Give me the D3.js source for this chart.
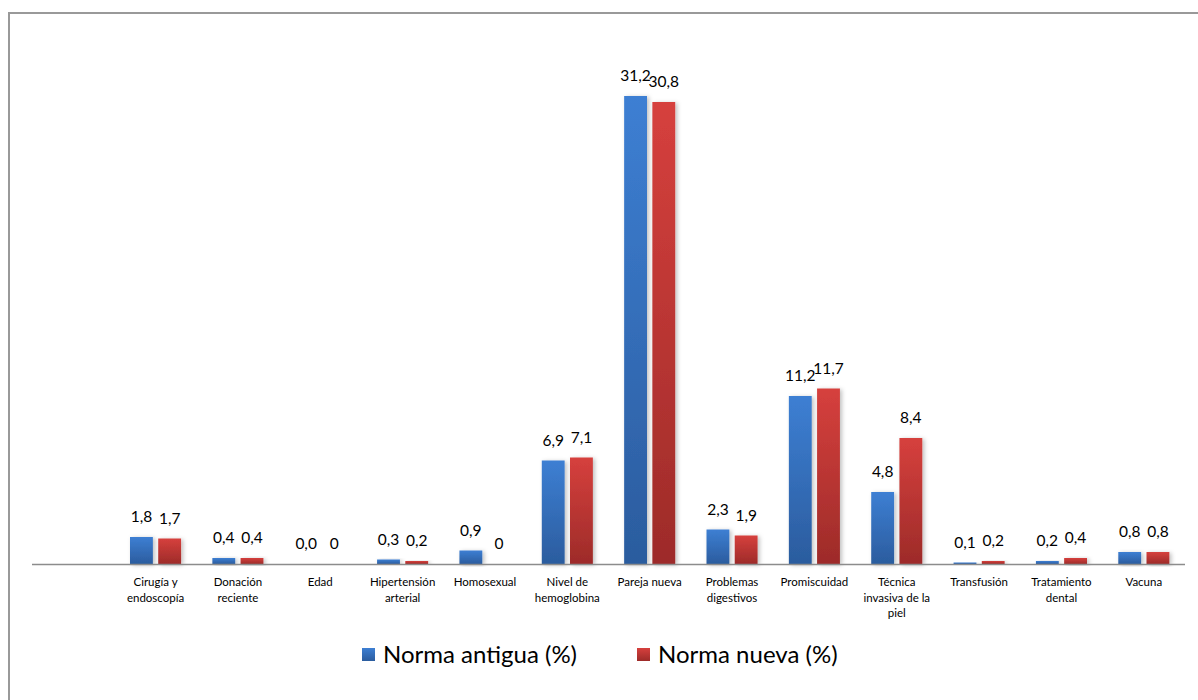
<!DOCTYPE html>
<html>
  <head>
    <meta charset="utf-8">
    <title>Norma antigua vs nueva</title>
    <style media="screen">
      body {margin:0; background:#fff}
      text {font-family: Lato, "Open Sans", sans-serif; fill:#000}
    </style>
  </head>
  <body>
    <script src="https://cdn.jsdelivr.net/npm/d3@7"></script>
    <script type="text/javascript">

    // first category is empty in the original chart
    const categories = ['', 'Cirugía y endoscopía', 'Donación reciente', 'Edad', 'Hipertensión arterial',
      'Homosexual', 'Nivel de hemoglobina', 'Pareja nueva', 'Problemas digestivos', 'Promiscuidad',
      'Técnica invasiva de la piel', 'Transfusión', 'Tratamiento dental', 'Vacuna']
    const antigua = [null, 1.8, 0.4, 0.0, 0.3, 0.9, 6.9, 31.2, 2.3, 11.2, 4.8, 0.1, 0.2, 0.8]
    const nueva   = [null, 1.7, 0.4, 0, 0.2, 0, 7.1, 30.8, 1.9, 11.7, 8.4, 0.2, 0.4, 0.8]
    const antiguaLabels = ['', '1,8', '0,4', '0,0', '0,3', '0,9', '6,9', '31,2', '2,3', '11,2', '4,8', '0,1', '0,2', '0,8']
    const nuevaLabels   = ['', '1,7', '0,4', '0', '0,2', '0', '7,1', '30,8', '1,9', '11,7', '8,4', '0,2', '0,4', '0,8']
    const seriesNames = ['Norma antigua (%)', 'Norma nueva (%)']

    const w = 1198, h = 700
    const svg = d3.select('body').append('svg').attr('width', w).attr('height', h)

    const defs = svg.append('defs')
    const grads = [['gBlue', '#3d7fd3', '#2b5c9e'], ['gRed', '#d6403d', '#9d2b29']]
    grads.forEach(([id, top, bot]) => {
      const g = defs.append('linearGradient').attr('id', id).attr('x1', 0).attr('y1', 0).attr('x2', 0).attr('y2', 1)
      g.append('stop').attr('offset', '0%').attr('stop-color', top)
      g.append('stop').attr('offset', '100%').attr('stop-color', bot)
    })
    defs.append('filter').attr('id', 'shadow').attr('x', '-20%').attr('y', '-20%').attr('width', '160%').attr('height', '140%')
      .append('feDropShadow').attr('dx', 2).attr('dy', 1).attr('stdDeviation', 2)
      .attr('flood-color', '#000').attr('flood-opacity', 0.25)

    // chart frame
    svg.append('path')
      .attr('d', `M9,${h} V13 H${w}`)
      .attr('fill', 'none').attr('stroke', '#999').attr('stroke-width', 2)

    const baseY = 564
    const x0 = d3.scaleBand().domain(d3.range(categories.length)).range([32, 1185])
    const bw = x0.bandwidth()
    const x1 = d3.scaleBand().domain([0, 1]).range([bw * 0.19, bw * 0.81]).paddingInner(0.19)
    const y = d3.scaleLinear().domain([0, 35]).range([baseY, baseY - 35 * 15])

    const rows = categories.map((c, i) => ({i, vals: [antigua[i], nueva[i]], labs: [antiguaLabels[i], nuevaLabels[i]]}))

    const groups = svg.append('g').selectAll('g').data(rows).join('g')
      .attr('transform', d => `translate(${x0(d.i)},0)`)

    groups.selectAll('rect')
      .data(d => d.vals.map((v, s) => ({v, s})).filter(d => d.v))
      .join('rect')
      .attr('x', d => x1(d.s))
      .attr('width', x1.bandwidth())
      .attr('y', d => y(d.v))
      .attr('height', d => baseY - y(d.v))
      .attr('fill', d => d.s ? 'url(#gRed)' : 'url(#gBlue)')
      .attr('filter', 'url(#shadow)')

    groups.selectAll('text.val')
      .data(d => d.vals.map((v, s) => ({v, s, lab: d.labs[s]})).filter(d => d.lab !== ''))
      .join('text')
      .attr('class', 'val')
      .attr('x', d => x1(d.s) + x1.bandwidth() / 2)
      .attr('y', d => y(d.v || 0) - 15)
      .attr('text-anchor', 'middle')
      .style('font-size', '15.5px')
      .text(d => d.lab)

    // x axis line
    svg.append('line')
      .attr('x1', 32).attr('x2', 1185).attr('y1', baseY + 0.5).attr('y2', baseY + 0.5)
      .attr('stroke', '#8c8c8c').attr('stroke-width', 1.5)

    // category labels with wrapping
    const catG = svg.append('g')
    categories.forEach((c, i) => {
      if (!c) return
      const t = catG.append('text')
        .attr('text-anchor', 'middle')
        .attr('x', x0(i) + bw / 2)
        .attr('y', baseY + 22)
        .style('font-size', '11.5px')
      const words = c.split(' ')
      let line = []
      let span = t.append('tspan').attr('x', x0(i) + bw / 2).attr('dy', 0)
      words.forEach(word => {
        line.push(word)
        span.text(line.join(' '))
        if (span.node().getComputedTextLength() > bw - 8 && line.length > 1) {
          line.pop()
          span.text(line.join(' '))
          line = [word]
          span = t.append('tspan').attr('x', x0(i) + bw / 2).attr('dy', 15.5).text(word)
        }
      })
    })

    // legend
    const legend = svg.append('g')
    const legX = [362, 637]
    seriesNames.forEach((name, s) => {
      legend.append('rect')
        .attr('x', legX[s]).attr('y', 648).attr('width', 13).attr('height', 13)
        .attr('fill', s ? 'url(#gRed)' : 'url(#gBlue)')
      legend.append('text')
        .attr('x', legX[s] + 21).attr('y', 663)
        .style('font-size', '24px')
        .text(name)
    })
    </script>
  </body>
</html>
